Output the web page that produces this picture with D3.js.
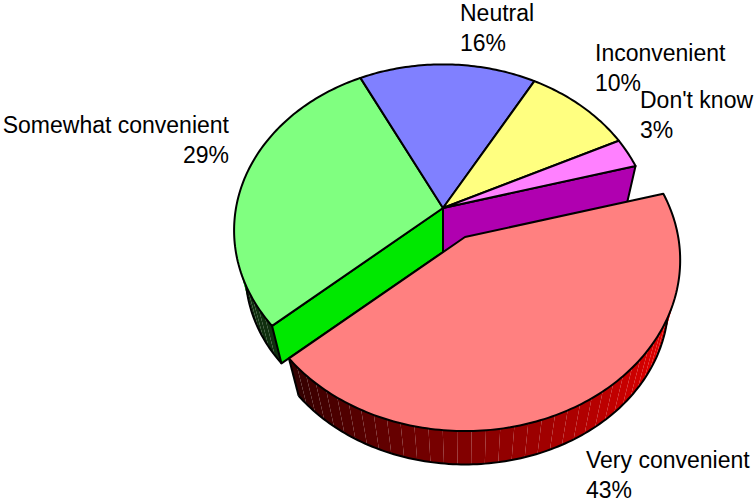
<!DOCTYPE html>
<html>
<head>
<meta charset="utf-8">
<script src="https://cdn.jsdelivr.net/npm/d3@7"></script>
<style>
  body { margin: 0; background: #fff; overflow: hidden; }
  text { font-family: "Liberation Sans", Arial, sans-serif; font-size: 23px; fill: #000; }
</style>
</head>
<body>
<div id="chart"></div>
<script>
// values
const categories = ["Very convenient", "Somewhat convenient", "Neutral", "Inconvenient", "Don't know"];
const shares = [42.9, 29.1, 15.6, 9.6, 2.9];
const topColors = ["#ff8080", "#80ff80", "#8080ff", "#ffff80", "#ff80ff"];

// label anchors, one per category
const labelX = [586, 229, 460, 595, 640];
const labelY = [468, 133, 21, 61, 108];
const labelAnchor = ["start", "end", "start", "start", "start"];

const width = 754;
const height = 502;

const svg = d3.select("#chart").append("svg")
    .attr("width", width)
    .attr("height", height);

// 3d look: unit disc goes through a small perspective divide
const center = { x: 443, y: 208 };
const depth = 44;
const bottomScale = 0.945;
const persp = 0.135;
const x = d3.scaleLinear().domain([-1, 1]).range([-207, 207]);
const y = d3.scaleLinear().domain([-1, 1]).range([-163, 163]);

// slice moved out
const explode = { x: 22, y: 29, scale: 1.03 };

function project(a, bottom, ex) {
    const w = 1 + persp * Math.cos(a);
    const s = (ex ? explode.scale : 1) * (bottom ? bottomScale : 1);
    return [
        center.x + (ex ? explode.x : 0) + s * x(Math.sin(a)) / w,
        center.y + (ex ? explode.y : 0) + (bottom ? depth : 0) + s * y(-Math.cos(a)) / w
    ];
}
function hub(bottom, ex) {
    return [
        center.x + (ex ? explode.x : 0),
        center.y + (ex ? explode.y : 0) + (bottom ? depth : 0)
    ];
}

const deg = Math.PI / 180;
const pie = d3.pie().sort(null).value(d => d).startAngle(74.5 * deg).endAngle(434.5 * deg);
const arcs = pie(shares);

const line = d3.line();

function rim(a0, a1, bottom, ex) {
    const n = Math.max(2, Math.ceil((a1 - a0) / deg));
    return d3.range(n + 1).map(i => project(a0 + (a1 - a0) * i / n, bottom, ex));
}

// side wall made of thin strips, the seams show through like in the original
function wall(a0, a1, shade, ex) {
    const step = 3.4 * deg;
    const n = Math.ceil((a1 - a0) / step);
    const g = svg.append("g");
    d3.range(n).forEach(i => {
        const s0 = a0 + (a1 - a0) * i / n;
        const s1 = a0 + (a1 - a0) * (i + 1) / n;
        const pts = rim(s0, s1, false, ex).concat(rim(s0, s1, true, ex).reverse());
        g.append("path")
            .attr("d", line(pts) + "Z")
            .attr("fill", shade((s0 + s1) / 2 / deg));
    });
    svg.append("path")
        .attr("d", line(rim(a0, a1, true, ex)))
        .attr("fill", "none")
        .attr("stroke", "#000")
        .attr("stroke-width", 2);
    const p0 = project(a1, false, ex);
    const p1 = project(a1, true, ex);
    return [p0, p1];
}

function cutWall(a, fill) {
    svg.append("path")
        .attr("d", line([hub(false), project(a, false), project(a, true), hub(true)]) + "Z")
        .attr("fill", fill)
        .attr("stroke", "#000")
        .attr("stroke-width", 2)
        .attr("stroke-linejoin", "round");
}

function topFace(d, i, ex) {
    const pts = [hub(false, ex)].concat(rim(d.startAngle, d.endAngle, false, ex));
    svg.append("path")
        .attr("d", line(pts) + "Z")
        .attr("fill", topColors[i])
        .attr("stroke", "#000")
        .attr("stroke-width", 2)
        .attr("stroke-linejoin", "round");
}

const redShade = d3.scaleLinear()
    .domain([100, 175, 230])
    .range(["#ff0000", "#8a0000", "#300000"])
    .clamp(true);
const greenShade = d3.scaleThreshold()
    .domain([252])
    .range(["#10300f", "#00e000"]);

// back to front
const veryConv = arcs[0];
const somewhat = arcs[1];
wall(somewhat.startAngle, somewhat.startAngle + 36 * deg, greenShade, false);
cutWall(veryConv.startAngle, "#b000b0");
cutWall(veryConv.endAngle, "#00e800");
arcs.forEach((d, i) => { if (i > 0) topFace(d, i, false); });

// exploded slice goes last
const ends = wall(veryConv.startAngle, veryConv.endAngle, redShade, true);
svg.append("path")
    .attr("d", line(ends))
    .attr("stroke", "#000")
    .attr("stroke-width", 2);
topFace(veryConv, 0, true);

// labels
const labels = svg.append("g").selectAll("g")
    .data(categories)
    .enter()
    .append("g")
    .attr("text-anchor", (d, i) => labelAnchor[i]);

labels.append("text")
    .attr("x", (d, i) => labelX[i])
    .attr("y", (d, i) => labelY[i])
    .text(d => d);

labels.append("text")
    .attr("x", (d, i) => labelX[i])
    .attr("y", (d, i) => labelY[i] + 30)
    .text((d, i) => d3.format(".0f")(shares[i]) + "%");
</script>
</body>
</html>
